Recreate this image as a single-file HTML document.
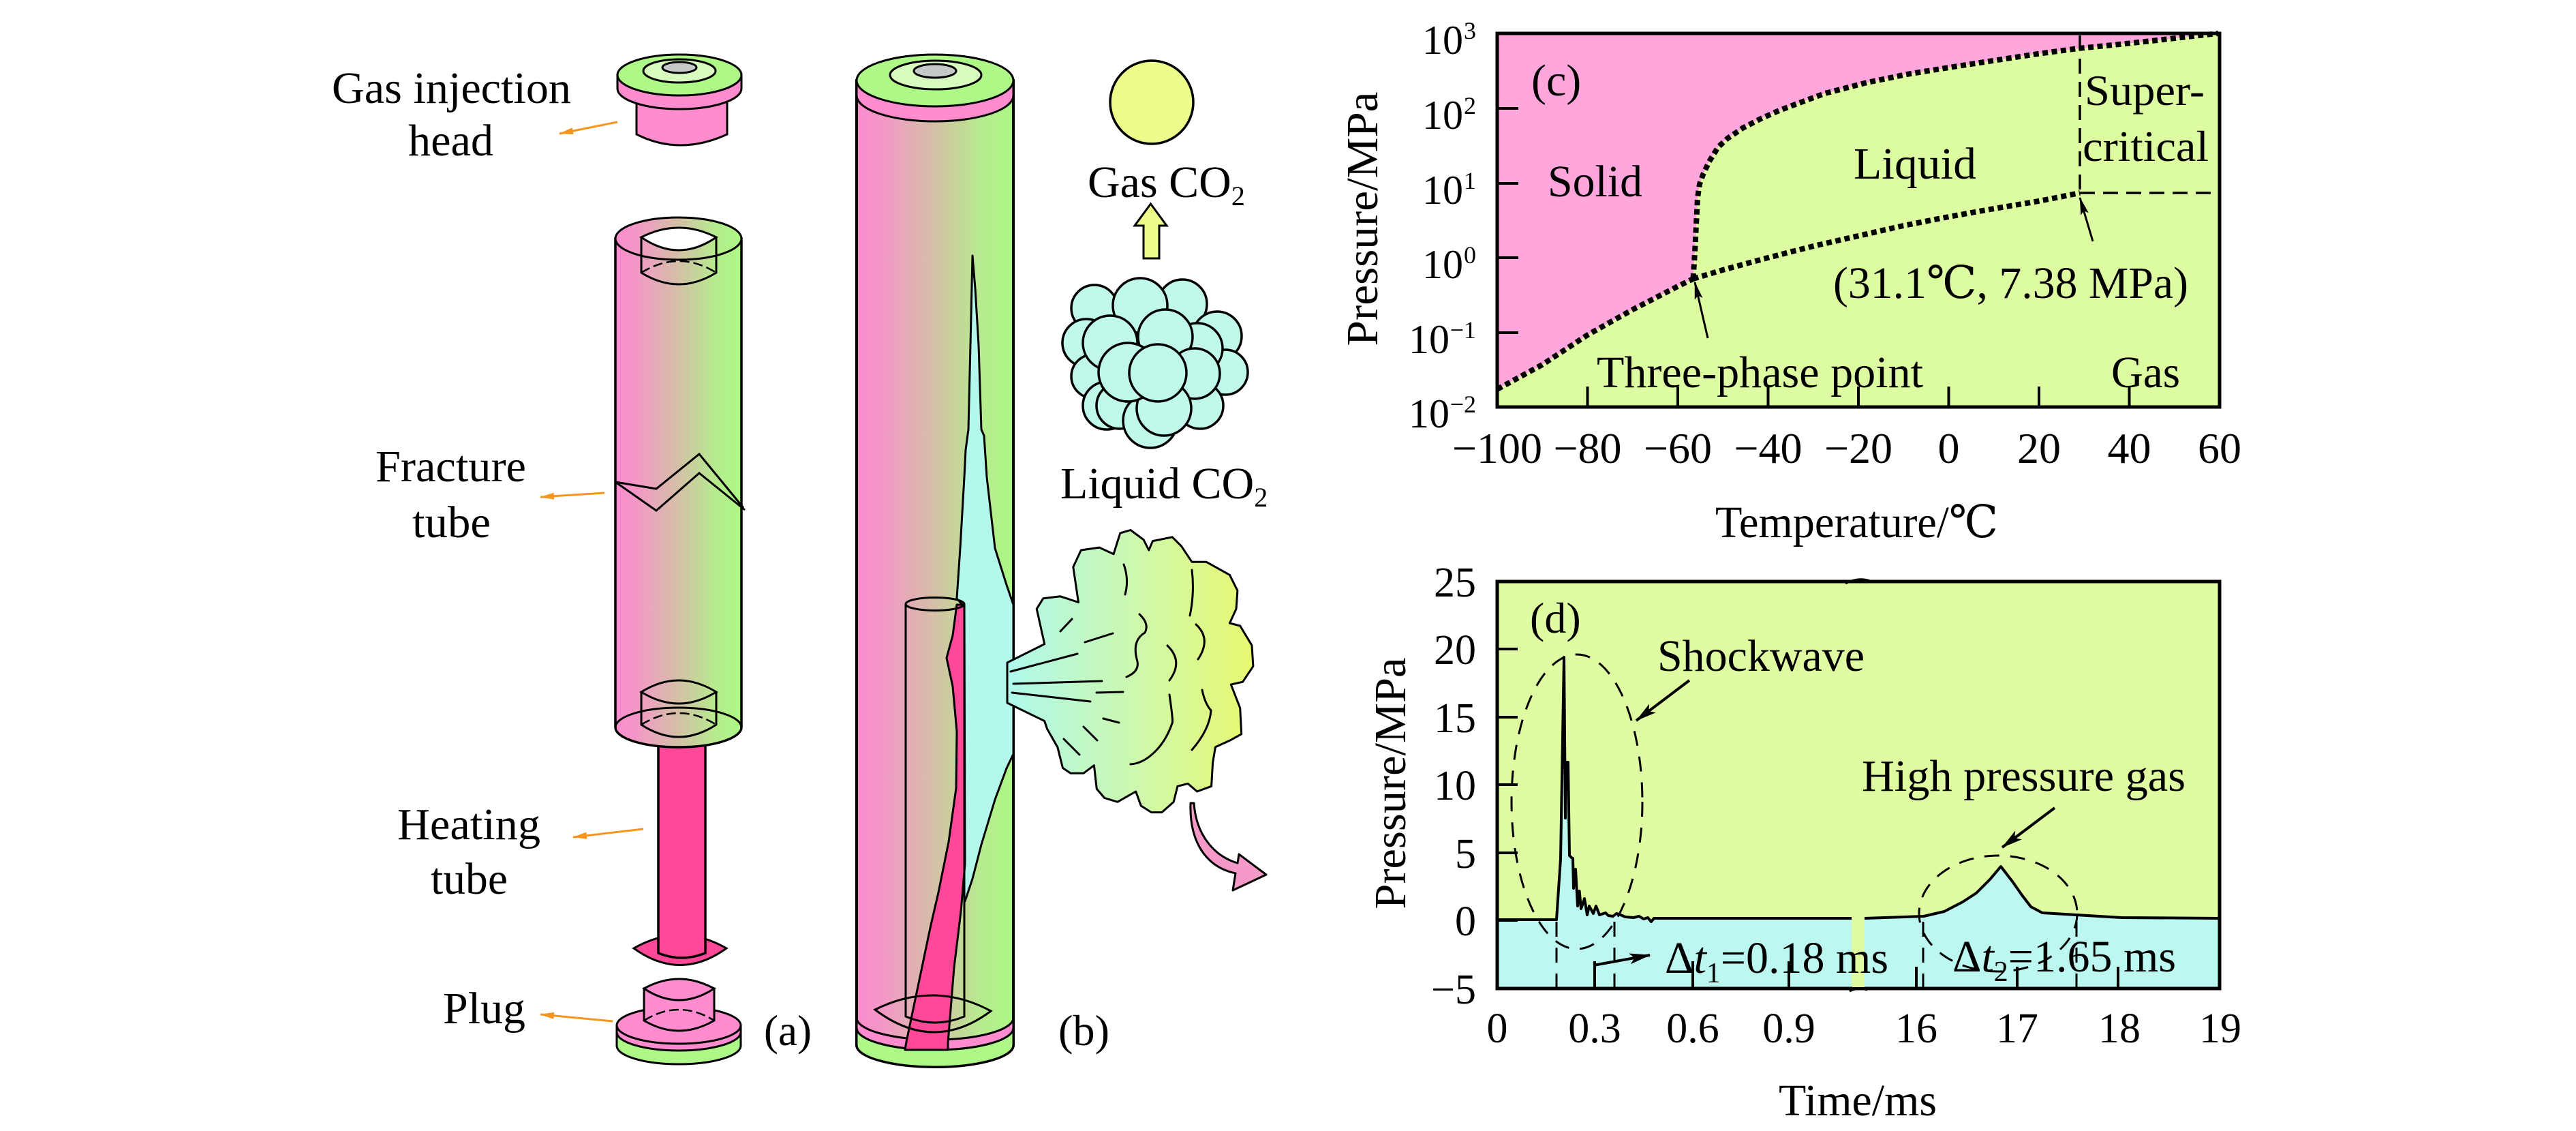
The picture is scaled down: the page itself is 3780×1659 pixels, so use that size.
<!DOCTYPE html>
<html><head><meta charset="utf-8">
<style>
html,body{margin:0;padding:0;background:#fff;}
svg{display:block;}
svg text{font-family:"Liberation Serif","DejaVu Serif","Noto Serif CJK SC",serif;fill:#000;}
</style></head><body>
<svg width="3780" height="1659" viewBox="0 0 3780 1659" xmlns="http://www.w3.org/2000/svg" font-family="'Liberation Serif','DejaVu Serif','Noto Serif CJK SC',serif">
<defs>
<linearGradient id="tg" x1="0" y1="0" x2="1" y2="0">
<stop offset="0" stop-color="#fb8ccf"/>
<stop offset="0.15" stop-color="#f596c8"/>
<stop offset="0.5" stop-color="#d4c0a6"/>
<stop offset="0.8" stop-color="#b6ec8e"/>
<stop offset="1" stop-color="#acf884"/>
</linearGradient>
<linearGradient id="cg" x1="0" y1="0" x2="1" y2="0">
<stop offset="0" stop-color="#aef8ec"/>
<stop offset="0.5" stop-color="#ccf8b0"/>
<stop offset="1" stop-color="#e8f870"/>
</linearGradient>
<marker id="ab" markerWidth="32" markerHeight="18" refX="30" refY="9" orient="auto" markerUnits="userSpaceOnUse"><path d="M0,1 L31,9 L0,17 L7,9 z" fill="#000"/></marker>
<marker id="ab2" markerWidth="26" markerHeight="12" refX="25" refY="6" orient="auto" markerUnits="userSpaceOnUse"><path d="M0,0 L26,6 L0,12 L5,6 z" fill="#000"/></marker>
<marker id="ao" markerWidth="22" markerHeight="12" refX="20" refY="6" orient="auto" markerUnits="userSpaceOnUse"><path d="M0,1 L21,6 L0,11 z" fill="#f7941d"/></marker>
</defs>
<rect x="0" y="0" width="3780" height="1659" fill="#fff"/>

<!-- ===== Left illustration (a) ===== -->
<path d="M934,140 L934,197 Q997,229 1067,197 L1067,140 Z" fill="#ff8ccf" stroke="#000" stroke-width="3"/>
<path d="M906,110 L906,130 A91 30 0 0 0 1088,130 L1088,110 Z" fill="#ff8ccf" stroke="#000" stroke-width="3"/>
<ellipse cx="997" cy="110" rx="91" ry="30" fill="#aef888" stroke="#000" stroke-width="3"/>
<ellipse cx="997" cy="104" rx="53" ry="17" fill="#d8fcc0" stroke="#000" stroke-width="3"/>
<ellipse cx="997" cy="99" rx="25" ry="8" fill="#c6cac6" stroke="#000" stroke-width="3"/>

<path d="M930,1391 Q998,1352 1066,1391 Q998,1440 930,1391 Z" fill="#ff4898" stroke="#000" stroke-width="3"/>
<path d="M966,1080 L966,1398 Q1000,1412 1035,1398 L1035,1080 Z" fill="#ff4898" stroke="#000" stroke-width="3.5"/>

<path d="M903,350 L903,1067 A92.5 29 0 0 0 1088,1067 L1088,350 Z" fill="url(#tg)" stroke="#000" stroke-width="3.5"/>
<ellipse cx="995.5" cy="350" rx="92.5" ry="31" fill="url(#tg)" stroke="#000" stroke-width="3"/>
<path d="M941,348 L941,400 Q996,434 1051,400 L1051,348" fill="none" stroke="#000" stroke-width="3"/>
<path d="M941,400 Q996,366 1051,400" fill="none" stroke="#000" stroke-width="2.5" stroke-dasharray="14 6"/>
<path d="M941,348 Q996,320 1051,348 Q996,386 941,348 Z" fill="#fff" stroke="#000" stroke-width="3"/>
<path d="M903,1067 A92.5 29 0 0 1 1088,1067" fill="none" stroke="#000" stroke-width="3"/>
<path d="M941,1015 L941,1063 Q996,1099 1051,1063 L1051,1015" fill="none" stroke="#000" stroke-width="3"/>
<path d="M941,1063 Q996,1029 1051,1063" fill="none" stroke="#000" stroke-width="2.5" stroke-dasharray="14 6"/>
<path d="M941,1015 Q996,981 1051,1015 Q996,1049 941,1015 Z" fill="none" stroke="#000" stroke-width="3"/>
<polyline points="903,707 963,717 1026,666 1091,745" fill="none" stroke="#000" stroke-width="3"/>
<polyline points="903,707 963,749 1026,694 1093,748" fill="none" stroke="#000" stroke-width="3"/>

<path d="M905,1504 L905,1534 A91 27 0 0 0 1087,1534 L1087,1504 Z" fill="#aef888" stroke="#000" stroke-width="3"/>
<path d="M905,1504 L905,1514 A91 27 0 0 0 1087,1514 L1087,1504 Z" fill="#ff8ccf" stroke="#000" stroke-width="3"/>
<ellipse cx="996" cy="1504" rx="91" ry="27" fill="#ff8ccf" stroke="#000" stroke-width="3"/>
<path d="M945,1450 L945,1497 Q996,1527 1048,1497 L1048,1450 Z" fill="#ff8ccf" stroke="#000" stroke-width="3"/>
<path d="M945,1497 Q996,1465 1048,1497" fill="none" stroke="#000" stroke-width="2.5" stroke-dasharray="14 6"/>
<path d="M945,1450 Q996,1422 1048,1450 Q996,1484 945,1450 Z" fill="#ff8ccf" stroke="#000" stroke-width="3"/>

<line x1="906" y1="179" x2="821" y2="196" stroke="#f7941d" stroke-width="3" marker-end="url(#ao)"/>
<line x1="887" y1="723" x2="793" y2="729" stroke="#f7941d" stroke-width="3" marker-end="url(#ao)"/>
<line x1="944" y1="1216" x2="841" y2="1228" stroke="#f7941d" stroke-width="3" marker-end="url(#ao)"/>
<line x1="899" y1="1498" x2="793" y2="1488" stroke="#f7941d" stroke-width="3" marker-end="url(#ao)"/>

<text x="487" y="151" font-size="66" textLength="351" lengthAdjust="spacingAndGlyphs">Gas injection</text>
<text x="599" y="228" font-size="66" textLength="125" lengthAdjust="spacingAndGlyphs">head</text>
<text x="551" y="706" font-size="66" textLength="221" lengthAdjust="spacingAndGlyphs">Fracture</text>
<text x="605" y="788" font-size="66" textLength="115" lengthAdjust="spacingAndGlyphs">tube</text>
<text x="583" y="1231" font-size="66" textLength="210" lengthAdjust="spacingAndGlyphs">Heating</text>
<text x="632" y="1311" font-size="66" textLength="113" lengthAdjust="spacingAndGlyphs">tube</text>
<text x="650" y="1501" font-size="66" textLength="121" lengthAdjust="spacingAndGlyphs">Plug</text>
<text x="1121" y="1533" font-size="64" textLength="70" lengthAdjust="spacingAndGlyphs">(a)</text>

<!-- ===== (b) big tube ===== -->
<path d="M1257,118 L1257,1533 A115 32 0 0 0 1487,1533 L1487,118 Z" fill="url(#tg)" stroke="#000" stroke-width="4"/>
<polygon points="1427,375 1431,423 1436,506 1440,630 1444,639 1448,700 1460,804 1477,858 1487,887 1487,1106 1477,1127 1460,1173 1440,1239 1427,1289 1416,1322 1415,1322 1415,890 1404,878 1409,804 1415,700 1417,660 1421,630 1424,506 1426,420" fill="#b4f8ec" stroke="#000" stroke-width="3" stroke-linejoin="round"/>
<path d="M1257,1493 A115 32 0 0 0 1487,1493 L1487,1508 A115 32 0 0 1 1257,1508 Z" fill="#ff8ccf" stroke="#000" stroke-width="3"/>
<path d="M1257,1508 A115 32 0 0 0 1487,1508 L1487,1533 A115 32 0 0 1 1257,1533 Z" fill="#aef888" stroke="#000" stroke-width="3"/>
<polygon points="1404,887 1398,932 1389,965 1398,1007 1404,1073 1403,1156 1392,1235 1377,1309 1365,1361 1330,1528 1328,1540 1391,1540 1391,1530 1400,1419 1410,1337 1416,1267 1415,887" fill="#ff4898" stroke="#000" stroke-width="3" stroke-linejoin="round"/>
<path d="M1329,886 L1329,1491 Q1372,1509 1415,1491 L1415,886" fill="none" stroke="#000" stroke-width="3"/>
<ellipse cx="1372" cy="886" rx="43" ry="9.5" fill="none" stroke="#000" stroke-width="3"/>
<path d="M1284,1481 Q1370,1438 1454,1483 Q1370,1546 1284,1481 Z" fill="none" stroke="#000" stroke-width="3"/>
<path d="M1257,118 L1257,140 A115 38 0 0 0 1487,140 L1487,118 Z" fill="#ff8ccf" stroke="#000" stroke-width="3"/>
<ellipse cx="1372" cy="118" rx="115" ry="38" fill="#aef888" stroke="#000" stroke-width="3"/>
<ellipse cx="1373" cy="110" rx="67" ry="21" fill="#d8fcc0" stroke="#000" stroke-width="3"/>
<ellipse cx="1372" cy="104" rx="31" ry="10" fill="#c6cac6" stroke="#000" stroke-width="3"/>
<text x="1553" y="1533" font-size="64" textLength="75" lengthAdjust="spacingAndGlyphs">(b)</text>

<circle cx="1690" cy="150" r="61" fill="#eefc8c" stroke="#000" stroke-width="3.5"/>
<text x="1596" y="289" font-size="66">Gas CO<tspan font-size="40" dy="12">2</tspan></text>
<polygon points="1688.5,299 1712,331 1701,331 1701,379 1678,379 1678,331 1665,331" fill="#eefc8c" stroke="#000" stroke-width="3"/>

<g fill="#c0f8ea" stroke="#000" stroke-width="3.5">
<circle cx="1606" cy="452" r="34"/>
<circle cx="1735" cy="446" r="36"/>
<circle cx="1786" cy="493" r="36"/>
<circle cx="1798" cy="546" r="33"/>
<circle cx="1594" cy="503" r="35"/>
<circle cx="1604" cy="552" r="32"/>
<circle cx="1624" cy="595" r="35"/>
<circle cx="1761" cy="595" r="34"/>
<circle cx="1673" cy="448" r="40"/>
<circle cx="1757" cy="511" r="37"/>
<circle cx="1629" cy="503" r="40"/>
<circle cx="1710" cy="494" r="40"/>
<circle cx="1753" cy="548" r="37"/>
<circle cx="1643" cy="595" r="34"/>
<circle cx="1688" cy="617" r="40"/>
<circle cx="1708" cy="599" r="40"/>
<circle cx="1655" cy="546" r="43"/>
<circle cx="1699" cy="547" r="42"/>
</g>
<text x="1556" y="731" font-size="66">Liquid CO<tspan font-size="40" dy="12">2</tspan></text>

<polygon points="1532.7,944.7 1521.2,893.1 1530.8,877.8 1555.7,874.7 1582.5,883.5 1574.8,831.8 1586.3,807 1613.1,803.1 1634.1,812.7 1643.7,782.1 1659,777.5 1678.1,791.7 1685.8,807 1691.5,793.6 1720.2,787.8 1733.6,801.2 1748.9,824.2 1770,824.2 1804.4,843.3 1815.9,866.3 1814,893.1 1804.4,914.1 1819.7,918 1837,946.7 1838.9,977.3 1823.6,1000.2 1806.3,1004.1 1819.7,1038.5 1821.7,1076.8 1804.4,1086.3 1783.4,1095.9 1779.6,1118.9 1777.6,1153.3 1756.6,1161 1743.2,1149.5 1727.9,1153.3 1722.2,1176.3 1704.9,1191.6 1689.6,1191.6 1674.3,1182 1666.7,1161 1639.9,1176.3 1620.7,1170.5 1609.3,1157.1 1605.4,1122.7 1590.1,1134.2 1571,1134.2 1559.5,1126.5 1551.8,1095.9 1536.5,1069.1 1532.7,1057.6 1478,1031 1478,972" fill="url(#cg)" stroke="#000" stroke-width="3" stroke-linejoin="round"/>
<g stroke="#000" stroke-width="3" fill="none" stroke-linecap="round">
<line x1="1483" y1="985" x2="1581" y2="959"/>
<line x1="1487" y1="1003" x2="1617" y2="999"/>
<line x1="1485" y1="1016" x2="1600" y2="1029"/>
<line x1="1592" y1="942" x2="1633" y2="929"/>
<line x1="1609" y1="1016" x2="1648" y2="1015"/>
<line x1="1619" y1="1054" x2="1642" y2="1060"/>
<line x1="1556" y1="926" x2="1573" y2="908"/>
<line x1="1590" y1="1066" x2="1610" y2="1086"/>
<line x1="1561" y1="1084" x2="1584" y2="1107"/>
<path d="M1672,901 Q1687,915 1680,928 Q1660,940 1669,970 Q1672,985 1653,993"/>
<path d="M1755,916 Q1778,937 1758,967"/>
<path d="M1713,947 Q1737,970 1716,998"/>
<path d="M1764,1012 Q1768,1032 1777,1042 Q1775,1070 1749,1100"/>
<path d="M1716,1019 Q1722,1060 1720,1061 Q1710,1090 1690,1107 Q1675,1120 1659,1121"/>
<path d="M1649,828 Q1657,850 1651,872"/>
<path d="M1749,836 Q1753,870 1746,903"/>
</g>
<path d="M1747,1178 C1745,1235 1770,1272 1813,1281 L1809,1306 L1858,1283 L1818,1253 L1816,1266 C1782,1256 1755,1225 1752,1178 Z" fill="#f59ac8" stroke="#000" stroke-width="3" stroke-linejoin="round"/>

<!-- ===== Plot (c) ===== -->
<rect x="2197" y="49" width="1060" height="548" fill="#ddfca2"/>
<path d="M2197,49 L3255,49 L3210,54 L3157,60 L3110,65 L3050,71 L2990,79 L2918,90 L2860,99 L2798,109 L2740,121 L2678,137 L2640,151 L2611,162 L2584,174 L2557,188 L2535,203 L2521,216 L2508,237 L2499,256 L2494,270 L2491,290 L2489,330 L2487,370 L2484.5,409 L2462,420 L2396,454 L2330,491 L2263,535 L2197,571 Z" fill="#ffa6dc"/>
<g fill="none" stroke="#000" stroke-width="8" stroke-dasharray="8 5.5">
<polyline points="2197,571 2263,535 2330,491 2396,454 2462,420 2484.5,409"/>
<polyline points="2484.5,409 2487,370 2489,330 2491,290 2494,270 2499,256 2508,237 2521,216 2535,203 2557,188 2584,174 2611,162 2640,151 2678,137 2740,121 2798,109 2860,99 2918,90 2990,79 3050,71 3110,65 3157,60 3210,54 3255,49"/>
<polyline points="2484.5,409 2528,396 2594.5,378 2661,361 2727,346 2793,331 2859.5,318 2926,306 2992,295 3052,283"/>
</g>
<g stroke="#000" stroke-width="3.5" stroke-dasharray="22 12" fill="none">
<line x1="3052" y1="52" x2="3052" y2="283"/>
<line x1="3052" y1="283" x2="3255" y2="283"/>
</g>
<line x1="3071" y1="354" x2="3052" y2="290" stroke="#000" stroke-width="3" marker-end="url(#ab2)"/>
<line x1="2506" y1="496" x2="2487" y2="414" stroke="#000" stroke-width="3" marker-end="url(#ab2)"/>
<g stroke="#000" stroke-width="4">
<line x1="2197" y1="159" x2="2228" y2="159"/>
<line x1="2197" y1="269" x2="2228" y2="269"/>
<line x1="2197" y1="378" x2="2228" y2="378"/>
<line x1="2197" y1="488" x2="2228" y2="488"/>
<line x1="2329.5" y1="597" x2="2329.5" y2="567"/>
<line x1="2462" y1="597" x2="2462" y2="567"/>
<line x1="2594.5" y1="597" x2="2594.5" y2="567"/>
<line x1="2727" y1="597" x2="2727" y2="567"/>
<line x1="2859.5" y1="597" x2="2859.5" y2="567"/>
<line x1="2992" y1="597" x2="2992" y2="567"/>
<line x1="3124.5" y1="597" x2="3124.5" y2="567"/>
</g>
<rect x="2197" y="49" width="1060" height="548" fill="none" stroke="#000" stroke-width="5"/>
<text x="2247" y="140" font-size="66">(c)</text>
<text x="2271" y="288" font-size="66" textLength="139" lengthAdjust="spacingAndGlyphs">Solid</text>
<text x="2720" y="262" font-size="66" textLength="180" lengthAdjust="spacingAndGlyphs">Liquid</text>
<text x="3059" y="154" font-size="64" textLength="176" lengthAdjust="spacingAndGlyphs">Super-</text>
<text x="3056" y="236" font-size="64" textLength="185" lengthAdjust="spacingAndGlyphs">critical</text>
<text x="2690" y="437" font-size="66" textLength="521" lengthAdjust="spacingAndGlyphs">(31.1℃, 7.38 MPa)</text>
<text x="2343" y="568" font-size="66" textLength="479" lengthAdjust="spacingAndGlyphs">Three-phase point</text>
<text x="3098" y="568" font-size="66" textLength="101" lengthAdjust="spacingAndGlyphs">Gas</text>
<g font-size="60" text-anchor="end">
<text x="2147" y="79">10</text>
<text x="2147" y="189">10</text>
<text x="2147" y="299">10</text>
<text x="2147" y="408">10</text>
<text x="2127" y="518">10</text>
<text x="2127" y="627">10</text>
</g>
<g font-size="36" text-anchor="end">
<text x="2166" y="57">3</text>
<text x="2166" y="167">2</text>
<text x="2166" y="277">1</text>
<text x="2166" y="386">0</text>
<text x="2166" y="496">−1</text>
<text x="2166" y="605">−2</text>
</g>
<g font-size="64" text-anchor="middle">
<text x="2197" y="679">−100</text>
<text x="2329.5" y="679">−80</text>
<text x="2462" y="679">−60</text>
<text x="2594.5" y="679">−40</text>
<text x="2727" y="679">−20</text>
<text x="2859.5" y="679">0</text>
<text x="2992" y="679">20</text>
<text x="3124.5" y="679">40</text>
<text x="3257" y="679">60</text>
</g>
<text transform="translate(2021,321) rotate(-90)" font-size="66" text-anchor="middle" textLength="373" lengthAdjust="spacingAndGlyphs">Pressure/MPa</text>
<text x="2517" y="788" font-size="66" textLength="415" lengthAdjust="spacingAndGlyphs">Temperature/℃</text>

<!-- ===== Plot (d) ===== -->
<rect x="2197" y="853" width="1060" height="597" fill="#e0fca2"/>
<polygon points="2197,1349 2284,1349 2290,1260 2295,964 2297,1200 2298,1118 2301,1118 2303,1255 2306,1258 2308,1259 2309,1303 2312,1275 2315,1329 2317.6,1307 2320,1333 2325,1318 2329,1342 2332,1329 2338,1340 2342,1329 2347,1342 2356,1339 2360,1343 2367,1344 2372,1340 2378,1342 2385,1345 2397,1346 2405,1344 2412,1348 2418,1346 2423,1352 2427,1347 2717,1347 2717,1450 2197,1450" fill="#bcf8f0"/>
<polygon points="2736,1347 2823,1344 2853,1337 2880,1323 2900,1310 2920,1290 2936,1271 2953,1293 2967,1313 2980,1330 2997,1339 3047,1342 3113,1346 3257,1347 3257,1450 2736,1450" fill="#bcf8f0"/>
<g fill="none" stroke="#000" stroke-width="4" stroke-linejoin="round">
<polyline points="2197,1349 2284,1349 2290,1260 2295,964 2297,1200 2298,1118 2301,1118 2303,1255 2306,1258 2308,1259 2309,1303 2312,1275 2315,1329 2317.6,1307 2320,1333 2325,1318 2329,1342 2332,1329 2338,1340 2342,1329 2347,1342 2356,1339 2360,1343 2367,1344 2372,1340 2378,1342 2385,1345 2397,1346 2405,1344 2412,1348 2418,1346 2423,1352 2427,1347 2717,1347"/>
<polyline points="2736,1347 2823,1344 2853,1337 2880,1323 2900,1310 2920,1290 2936,1271 2953,1293 2967,1313 2980,1330 2997,1339 3047,1342 3113,1346 3257,1347"/>
</g>
<g fill="none" stroke="#000" stroke-width="3" stroke-dasharray="22 16">
<ellipse cx="2314" cy="1176" rx="96" ry="216"/>
<ellipse cx="2932" cy="1340" rx="116" ry="85"/>
<line x1="2284" y1="1352" x2="2284" y2="1450"/>
<line x1="2369" y1="1352" x2="2369" y2="1450"/>
<line x1="2822" y1="1352" x2="2822" y2="1450"/>
<line x1="3047" y1="1352" x2="3047" y2="1450"/>
</g>
<g stroke="#000" stroke-width="4">
<line x1="2197" y1="952" x2="2227" y2="952"/>
<line x1="2197" y1="1052" x2="2227" y2="1052"/>
<line x1="2197" y1="1151" x2="2227" y2="1151"/>
<line x1="2197" y1="1251" x2="2227" y2="1251"/>
<line x1="2197" y1="1350" x2="2227" y2="1350"/>
<line x1="2340" y1="1450" x2="2340" y2="1410"/>
<line x1="2484" y1="1450" x2="2484" y2="1410"/>
<line x1="2625" y1="1450" x2="2625" y2="1410"/>
<line x1="2812" y1="1450" x2="2812" y2="1418"/>
<line x1="2960" y1="1450" x2="2960" y2="1418"/>
<line x1="3108" y1="1450" x2="3108" y2="1418"/>
</g>
<line x1="2479" y1="998" x2="2401" y2="1057" stroke="#000" stroke-width="4" marker-end="url(#ab)"/>
<line x1="3015" y1="1185" x2="2938" y2="1243" stroke="#000" stroke-width="4" marker-end="url(#ab)"/>
<line x1="2338" y1="1416" x2="2421" y2="1401" stroke="#000" stroke-width="4" marker-end="url(#ab)"/>
<rect x="2197" y="853" width="1060" height="597" fill="none" stroke="#000" stroke-width="5"/>
<rect x="2718" y="1350" width="18" height="98" fill="#e0fca2"/>
<path d="M2708,856 Q2726,846 2744,852" fill="none" stroke="#000" stroke-width="3"/>
<path d="M2714,1454 Q2726,1448 2740,1452" fill="none" stroke="#000" stroke-width="3"/>
<text x="2245" y="928" font-size="64">(d)</text>
<text x="2432" y="984" font-size="66" textLength="304" lengthAdjust="spacingAndGlyphs">Shockwave</text>
<text x="2732" y="1160" font-size="66" textLength="475" lengthAdjust="spacingAndGlyphs">High pressure gas</text>
<text x="2443" y="1427" font-size="66">Δ<tspan font-style="italic">t</tspan><tspan font-size="42" dy="14">1</tspan><tspan dy="-14">=0.18 ms</tspan></text>
<text x="2865" y="1425" font-size="66">Δ<tspan font-style="italic">t</tspan><tspan font-size="42" dy="14">2</tspan><tspan dy="-14">=1.65 ms</tspan></text>
<g font-size="62" text-anchor="end">
<text x="2166" y="875">25</text>
<text x="2166" y="974">20</text>
<text x="2166" y="1074">15</text>
<text x="2166" y="1173">10</text>
<text x="2166" y="1273">5</text>
<text x="2166" y="1372">0</text>
<text x="2166" y="1472">−5</text>
</g>
<g font-size="62" text-anchor="middle">
<text x="2197" y="1529">0</text>
<text x="2340" y="1529">0.3</text>
<text x="2484" y="1529">0.6</text>
<text x="2625" y="1529">0.9</text>
<text x="2812" y="1529">16</text>
<text x="2960" y="1529">17</text>
<text x="3110" y="1529">18</text>
<text x="3258" y="1529">19</text>
</g>
<text transform="translate(2062,1149) rotate(-90)" font-size="66" text-anchor="middle" textLength="369" lengthAdjust="spacingAndGlyphs">Pressure/MPa</text>
<text x="2610" y="1636" font-size="66" textLength="232" lengthAdjust="spacingAndGlyphs">Time/ms</text>
</svg>
</body></html>
